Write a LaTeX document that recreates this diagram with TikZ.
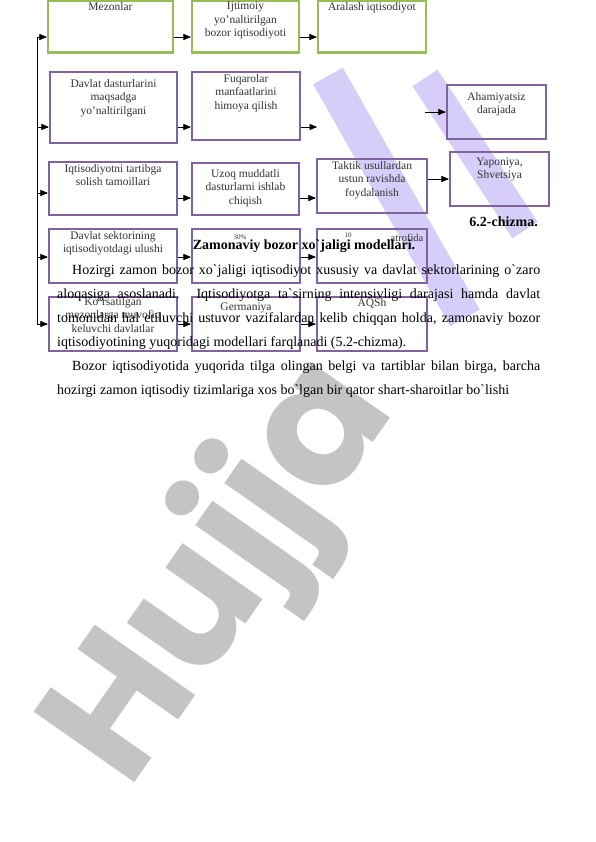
\documentclass[tikz,border=0pt]{standalone}
\usepackage{fontspec}
\setmainfont{Liberation Serif}
\newfontfamily\wmfont{Poppins}
\usepackage{tikz}
\usetikzlibrary{arrows}

\begin{document}
\begin{tikzpicture}[x=1pt,y=-1pt,
  greenbox/.style={draw=boxGreen, line width=2.4pt, inner sep=0pt},
  purplebox/.style={draw=boxPurple, line width=2.4pt, inner sep=0pt},
  boxtext/.style={anchor=north, align=center, inner sep=0pt, text=black!80, font=\fontsize{11.5}{13.3}\selectfont},
  bodytext/.style={anchor=base west, inner sep=0pt, font=\fontsize{14}{16}\selectfont},
  arr/.style={->,>=triangle 45, line width=0.7pt}]
\fill[white] (0,0) rectangle (596,842);
\useasboundingbox (0,0) rectangle (596,842);
% watermark
\definecolor{wmGray}{RGB}{196,196,196}
\definecolor{wmLilac}{RGB}{214,205,248}
\node[color=wmGray, rotate=55, anchor=base west, inner sep=0pt, font=\wmfont\bfseries\fontsize{175}{175}\selectfont] (wm) at (128,792) {Hujja};
\draw[color=wmLilac, line width=34pt] (328,76) -- (465,318);
\draw[color=wmLilac, line width=30pt] (425,78) -- (525,230);
% boxes
\definecolor{boxGreen}{RGB}{155,187,89}
\definecolor{boxPurple}{RGB}{128,100,162}
\node[greenbox, minimum width=125pt, minimum height=52pt] (mez) at (110.5,26.5) {};
\node[greenbox, minimum width=107pt, minimum height=52pt] (ijt) at (245.5,26.5) {};
\node[greenbox, minimum width=108pt, minimum height=52pt] (ara) at (372,26.5) {};
\node[purplebox, minimum width=127pt, minimum height=71pt] (dav) at (113.5,107.5) {};
\node[purplebox, minimum width=108pt, minimum height=68pt] (fuq) at (246,106) {};
\node[purplebox, minimum width=99pt, minimum height=54pt] (aha) at (496.5,112) {};
\node[purplebox, minimum width=128pt, minimum height=53pt] (iqt) at (113,188.5) {};
\node[purplebox, minimum width=107pt, minimum height=52pt] (uzo) at (245.5,189) {};
\node[purplebox, minimum width=110pt, minimum height=54pt] (tak) at (372,186) {};
\node[purplebox, minimum width=99pt, minimum height=54pt] (yap) at (499.5,179) {};
\node[purplebox, minimum width=128pt, minimum height=54pt] (dse) at (113,256) {};
\node[purplebox, minimum width=108pt, minimum height=54pt] (prc) at (246,256) {};
\node[purplebox, minimum width=110pt, minimum height=54pt] (atr) at (372,256) {};
\node[purplebox, minimum width=128pt, minimum height=54pt] (kor) at (113,324) {};
\node[purplebox, minimum width=108pt, minimum height=54pt] (ger) at (246,324) {};
\node[purplebox, minimum width=110pt, minimum height=54pt] (aqs) at (372,324) {};
% box texts
\node[boxtext] (mezT) at (mez.north |- 0,2) {Mezonlar};
\node[boxtext] (ijtT) at (ijt.north |- 0,2) {Ijtimoiy\\yo'naltirilgan\\bozor iqtisodiyoti};
\node[boxtext] (araT) at (ara.north |- 0,2) {Aralash iqtisodiyot};
\node[boxtext] (davT) at (dav.north |- 0,79.5) {Davlat dasturlarini\\maqsadga\\yo'naltirilgani};
\node[boxtext] (fuqT) at (fuq.north |- 0,74.5) {Fuqarolar\\manfaatlarini\\himoya qilish};
\node[boxtext] (ahaT) at (aha.north |- 0,92.5) {Ahamiyatsiz\\darajada};
\node[boxtext] (iqtT) at (iqt.north |- 0,164.5) {Iqtisodiyotni tartibga\\solish tamoillari};
\node[boxtext] (uzoT) at (uzo.north |- 0,169.5) {Uzoq muddatli\\dasturlarni ishlab\\chiqish};
\node[boxtext] (takT) at (tak.north |- 0,161.5) {Taktik usullardan\\ustun ravishda\\foydalanish};
\node[boxtext] (yapT) at (yap.north |- 0,157.5) {Yaponiya,\\Shvetsiya};
\node[boxtext] (dseT) at (dse.north |- 0,231.5) {Davlat sektorining\\iqtisodiyotdagi ulushi};
\node[boxtext, font=\fontsize{7}{8}\selectfont] (prcT) at (240,235) {30\%};
\node[boxtext, font=\fontsize{7}{8}\selectfont] (atrA) at (348,233) {10};
\node[boxtext, font=\fontsize{10.5}{12}\selectfont] (atrB) at (407,233.5) {atrofida};
\node[boxtext] (korT) at (kor.north |- 0,297.5) {Ko'rsatilgan\\mezonlarga muvofiq\\keluvchi davlatlar};
\node[boxtext] (gerT) at (ger.north |- 0,302.5) {Germaniya};
\node[boxtext] (aqsT) at (aqs.north |- 0,298.5) {AQSh};
% connectors
\coordinate (busTop) at (37,37);
\coordinate (busBot) at (37,324);
\draw[line width=0.7pt] (busTop) -- (busBot);
\foreach \b/\y in {mez/37,dav/127,iqt/193,dse/257,kor/324}
  \draw[arr] (busTop |- 0,\y) -- (\b.west |- 0,\y);
\draw[arr] (mez.east |- 0,37) -- (ijt.west |- 0,37);
\draw[arr] (ijt.east |- 0,37) -- (ara.west |- 0,37);
\coordinate (fuqEnd) at (317,127);
\draw[arr] (dav.east |- 0,127) -- (fuq.west |- 0,127);
\draw[arr] (fuq.east |- fuqEnd) -- (fuqEnd);
\coordinate (ahaIn) at (425,112);
\draw[arr] (ahaIn) -- (aha.west |- ahaIn);
\draw[arr] (iqt.east |- 0,198) -- (uzo.west |- 0,198);
\draw[arr] (uzo.east |- 0,198) -- (tak.west |- 0,198);
\draw[arr] (tak.east |- 0,179) -- (yap.west |- 0,179);
\draw[arr] (dse.east |- 0,257) -- (prc.west |- 0,257);
\draw[arr] (prc.east |- 0,257) -- (atr.west |- 0,257);
\draw[arr] (kor.east |- 0,324) -- (ger.west |- 0,324);
\draw[arr] (ger.east |- 0,324) -- (aqs.west |- 0,324);
% page text
\node[bodytext, anchor=base east, font=\bfseries\fontsize{14}{16}\selectfont] (fig) at (538,226) {6.2-chizma.};
\node[bodytext, anchor=base, font=\bfseries\fontsize{14}{16}\selectfont] (head) at (304,249) {Zamonaviy bozor xo\textasciigrave jaligi modellari.};
\node[bodytext] (l1) at (72,274) {\makebox[468pt][s]{Hozirgi zamon bozor xo\textasciigrave jaligi iqtisodiyot xususiy va davlat sektorlarining o\textasciigrave zaro}};
\node[bodytext] (l2) at (57,298) {\makebox[483pt][s]{aloqasiga asoslanadi. Iqtisodiyotga ta\textasciigrave sirning intensivligi darajasi hamda davlat}};
\node[bodytext] (l3) at (57,322) {\makebox[483pt][s]{tomonidan hal etiluvchi ustuvor vazifalardan kelib chiqqan holda, zamonaviy bozor}};
\node[bodytext] (l4) at (57,346) {iqtisodiyotining yuqoridagi modellari farqlanadi (5.2-chizma).};
\node[bodytext] (l5) at (72,370) {\makebox[468pt][s]{Bozor iqtisodiyotida yuqorida tilga olingan belgi va tartiblar bilan birga, barcha}};
\node[bodytext] (l6) at (57,394) {hozirgi zamon iqtisodiy tizimlariga xos bo\textasciigrave lgan bir qator shart-sharoitlar bo\textasciigrave lishi};
\end{tikzpicture}
\end{document}
